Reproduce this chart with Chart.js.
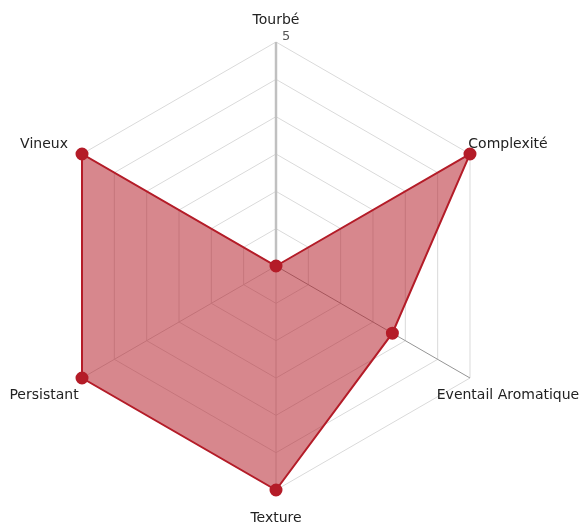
<!DOCTYPE html>
<html>
<head>
<meta charset="utf-8">
<script src="https://cdn.jsdelivr.net/npm/chart.js@4"></script>
<style>
  html, body { margin: 0; padding: 0; background: #fff; }
  #wrap { width: 583px; height: 525px; }
</style>
</head>
<body>
<div id="wrap"><canvas id="radar"></canvas></div>
<script>
const categories = ['Tourbé', 'Complexité', 'Eventail Aromatique', 'Texture', 'Persistant', 'Vineux'];
const scores = [0, 5, 3, 5, 5, 5];
const scaleMin = 0;
const scaleMax = 5;

const lineColor = 'rgb(180, 28, 40)';
const fillColor = 'rgba(180, 28, 40, 0.53)';

// axis labels placed around the web, plus the single "5" tick label
const axisLabels = {
    id: 'axisLabels',
    afterDraw(chart) {
        const scale = chart.scales.r;
        const ctx = chart.ctx;
        const n = chart.data.labels.length;
        ctx.save();
        ctx.font = '14px "DejaVu Sans"';
        ctx.fillStyle = '#222';
        ctx.textAlign = 'center';
        ctx.textBaseline = 'middle';
        for (let i = 0; i < n; i++) {
            const p = scale.getPointPosition(i, scale.drawingArea);
            const dx = p.x - scale.xCenter;
            const dy = p.y - scale.yCenter;
            let x = p.x, y = p.y;
            if (Math.abs(dx) < 1) {
                y += dy < 0 ? -22 : 28;
            } else {
                x += dx > 0 ? 38 : -38;
                y += dy < 0 ? -10 : 17;
            }
            // keep inside the canvas
            const w = ctx.measureText(chart.data.labels[i]).width;
            x = Math.min(Math.max(x, w / 2 + 4), chart.width - w / 2 - 1);
            ctx.fillText(chart.data.labels[i], x, y);
        }
        const top = scale.getPointPositionForValue(0, scaleMax);
        ctx.font = '13px "DejaVu Sans"';
        ctx.fillStyle = '#555';
        ctx.textAlign = 'left';
        ctx.textBaseline = 'bottom';
        ctx.fillText(String(scaleMax), top.x + 6, top.y + 1);
        ctx.restore();
    }
};

new Chart(document.getElementById('radar'), {
    type: 'radar',
    data: {
        labels: categories,
        datasets: [{
            label: 'Profil',
            data: scores,
            borderColor: lineColor,
            backgroundColor: fillColor,
            borderWidth: 2,
            pointBackgroundColor: lineColor,
            pointBorderColor: lineColor,
            pointRadius: 5.5,
            fill: true
        }]
    },
    options: {
        responsive: true,
        maintainAspectRatio: false,
        animation: false,
        layout: { padding: { top: 42, bottom: 35, left: 52, right: 83 } },
        plugins: {
            legend: { display: false },
            tooltip: { enabled: false }
        },
        scales: {
            r: {
                min: scaleMin,
                max: scaleMax,
                ticks: { count: 7, display: false },
                grid: { color: '#dadada', lineWidth: 1 },
                angleLines: {
                    color: ctx => ctx.index === 0 ? '#c0c0c0' : (ctx.index === 2 ? '#959595' : '#d2d2d2'),
                    lineWidth: ctx => ctx.index === 0 ? 2.5 : 1
                },
                pointLabels: { display: false }
            }
        }
    },
    plugins: [axisLabels]
});
</script>
</body>
</html>
